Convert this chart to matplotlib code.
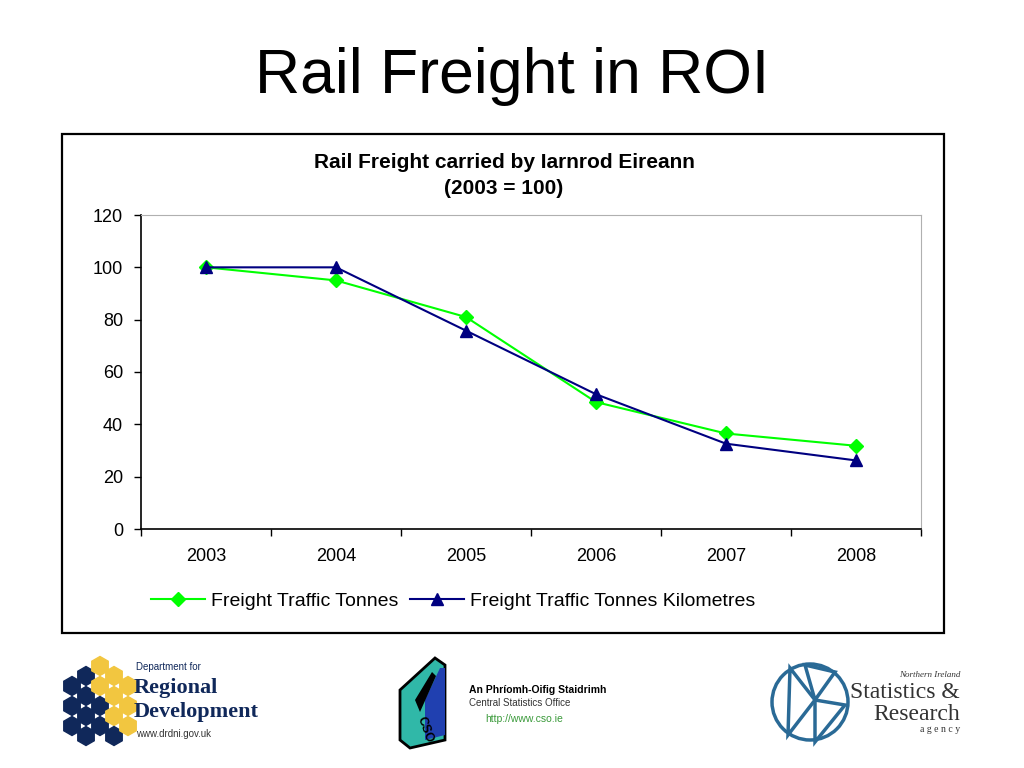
import matplotlib
matplotlib.use("Agg")
import matplotlib.pyplot as plt
from matplotlib.patches import Rectangle, RegularPolygon, Polygon, Circle

plt.rcParams['font.family'] = ['Liberation Sans', 'DejaVu Sans']

# data
years = ['2003', '2004', '2005', '2006', '2007', '2008']
tonnes = [100, 95, 81, 48.5, 36.5, 31.8]
tonne_km = [100, 100, 75.8, 51.5, 32.6, 26.2]
yticks = [0, 20, 40, 60, 80, 100, 120]

W, H = 1024, 768
fig = plt.figure(figsize=(W / 100, H / 100), dpi=100)

# overlay in pixel coordinates for the frame, title and logos
bg = fig.add_axes([0, 0, 1, 1])
bg.set_xlim(0, W)
bg.set_ylim(H, 0)
bg.axis('off')

bg.text(512, 76, 'Rail Freight in ROI', fontsize=45, ha='center', va='center')
bg.add_patch(Rectangle((62, 134), 882, 499, fill=False, ec='black', lw=1.6))
bg.text(504, 162, 'Rail Freight carried by Iarnrod Eireann', fontsize=15,
        fontweight='bold', ha='center', va='center')
bg.text(504, 189, '(2003 = 100)', fontsize=15, fontweight='bold', ha='center', va='center')

# chart
ax = fig.add_axes([141 / W, (H - 529) / H, 780 / W, 314 / H])
x = list(range(len(years)))
ax.plot(x, tonnes, color='#00ff00', lw=1.5, marker='D', ms=7, mec='#00ff00',
        label='Freight Traffic Tonnes')
ax.plot(x, tonne_km, color='#000080', lw=1.5, marker='^', ms=9, mec='#000080',
        label='Freight Traffic Tonnes Kilometres')
ax.set_xlim(-0.5, len(years) - 0.5)
ax.set_ylim(0, 120)
ax.set_yticks(yticks)
ax.set_yticklabels([str(v) for v in yticks], fontsize=13)
ax.set_xticks(x)
ax.set_xticklabels(years, fontsize=13)
ax.set_xticks([i - 0.5 for i in range(len(years) + 1)], minor=True)
ax.tick_params(axis='x', which='major', length=0, pad=14)
ax.tick_params(axis='x', which='minor', length=5, width=1, direction='out')
ax.tick_params(axis='y', length=5, width=1, direction='out', pad=8)
ax.spines['top'].set_color('#b0b0b0')
ax.spines['right'].set_color('#b0b0b0')
ax.spines['left'].set_linewidth(1.2)
ax.spines['bottom'].set_linewidth(1.2)
fig.legend(*ax.get_legend_handles_labels(), loc='center',
           bbox_to_anchor=(453 / W, (H - 601) / H), ncol=2, frameon=False,
           fontsize=14, handlelength=2.8, handletextpad=0.3, columnspacing=0.6)

# --- logos (rough redraw) ---
navy = '#10285a'
yellow = '#f2c640'
hexes = [(72, 686, navy), (72, 706, navy), (72, 726, navy),
         (86, 676, navy), (86, 696, navy), (86, 716, navy), (86, 736, navy),
         (100, 686, yellow), (100, 706, navy), (100, 726, navy),
         (114, 676, yellow), (114, 696, yellow), (114, 716, yellow), (114, 736, navy),
         (128, 706, yellow), (128, 686, yellow), (100, 666, yellow), (128, 726, yellow)]
for hx, hy, c in hexes:
    bg.add_patch(RegularPolygon((hx, hy), 6, radius=9.5, orientation=0, color=c))
bg.text(136, 667, 'Department for', fontsize=7, color=navy, va='center')
bg.text(134, 688, 'Regional', fontsize=16, family='Liberation Serif', fontweight='bold',
        color=navy, va='center')
bg.text(134, 712, 'Development', fontsize=16, family='Liberation Serif', fontweight='bold',
        color=navy, va='center')
bg.text(136, 734, 'www.drdni.gov.uk', fontsize=7, color='#333333', va='center')

bg.add_patch(Polygon([(400, 690), (435, 658), (445, 665), (445, 740), (410, 748), (400, 740)],
                     closed=True, fc='#30b8a8', ec='black', lw=2))
bg.add_patch(Polygon([(425, 700), (440, 668), (445, 668), (445, 735), (425, 740)],
                     closed=True, fc='#2040b0', ec='none'))
bg.add_patch(Polygon([(415, 700), (432, 672), (436, 676), (420, 712)],
                     closed=True, fc='black', ec='none'))
bg.text(425, 730, 'CSO', fontsize=9, fontweight='bold', rotation=-70, ha='center', va='center')
bg.text(469, 690, 'An Phríomh-Oifig Staidrimh', fontsize=7.5, fontweight='bold', va='center')
bg.text(469, 703, 'Central Statistics Office', fontsize=7, color='#333333', va='center')
bg.text(485, 719, 'http://www.cso.ie', fontsize=7.5, color='#3a9a3a', va='center')

blue = '#2a6a96'
bg.add_patch(Circle((810, 702), 38, fill=False, ec=blue, lw=2.5))
bg.add_patch(Polygon([(790, 668), (815, 700), (788, 735)], closed=True, fill=False, ec=blue, lw=2.5))
bg.add_patch(Polygon([(815, 700), (845, 705), (815, 742)], closed=True, fill=False, ec=blue, lw=2.5))
bg.add_patch(Polygon([(815, 700), (805, 665), (835, 672)], closed=True, fill=False, ec=blue, lw=2.5))
bg.text(960, 675, 'Northern Ireland', fontsize=6.5, family='Liberation Serif',
        style='italic', ha='right', va='center', color='#333333')
bg.text(960, 692, 'Statistics &', fontsize=17, family='Liberation Serif', ha='right', va='center', color='#333333')
bg.text(960, 714, 'Research', fontsize=17, family='Liberation Serif', ha='right', va='center', color='#333333')
bg.text(960, 730, 'a g e n c y', fontsize=7, family='Liberation Serif', ha='right', va='center', color='#333333')

fig.savefig('out.png', dpi=100)
